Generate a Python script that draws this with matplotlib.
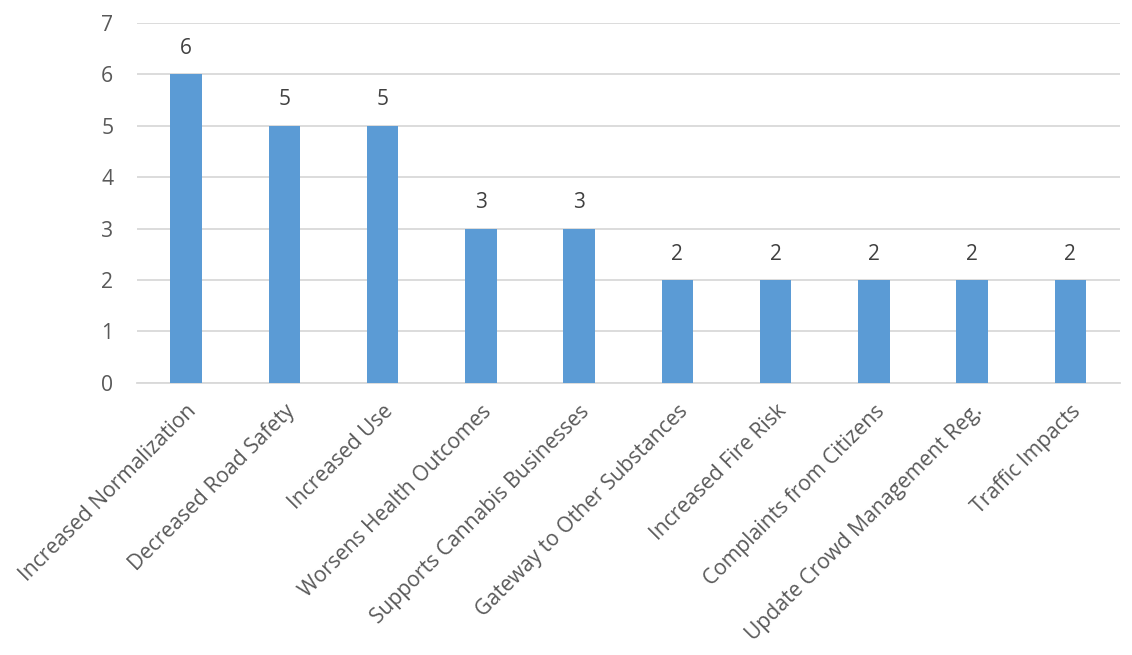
import matplotlib.pyplot as plt

categories = [
    "Increased Normalization",
    "Decreased Road Safety",
    "Increased Use",
    "Worsens Health Outcomes",
    "Supports Cannabis Businesses",
    "Gateway to Other Substances",
    "Increased Fire Risk",
    "Complaints from Citizens",
    "Update Crowd Management Reg.",
    "Traffic Impacts",
]
counts = [6, 5, 5, 3, 3, 2, 2, 2, 2, 2]
y_ticks = [0, 1, 2, 3, 4, 5, 6, 7]


def main():
    plt.rcParams["font.family"] = ["Open Sans", "DejaVu Sans"]
    fig = plt.figure(figsize=(11.32, 6.55), dpi=100)
    ax = fig.add_axes([0.121, 0.4155, 0.868, 0.5495])

    x = range(len(categories))
    bars = ax.bar(x, counts, width=0.32, color="#5B9BD5", zorder=3)
    for b, v in zip(bars, counts):
        ax.annotate(str(v), (b.get_x() + b.get_width() / 2, v),
                    xytext=(0, 11), textcoords="offset points",
                    ha="center", va="bottom", fontsize=15, color="#404040")

    ax.set_xlim(-0.5, len(categories) - 0.5)
    ax.set_ylim(0, 7)
    ax.set_yticks(y_ticks)
    ax.yaxis.grid(True, color="#D9D9D9", linewidth=1.3, zorder=0)
    ax.set_xticks(list(x))
    ax.set_xticklabels(categories, rotation=45, ha="right", va="top",
                       rotation_mode="anchor", fontsize=15.2, color="#595959")
    ax.tick_params(axis="y", labelsize=15.2, labelcolor="#595959", length=0, pad=17)
    ax.tick_params(axis="x", length=0, pad=13)
    for s in ["top", "right", "left"]:
        ax.spines[s].set_visible(False)
    ax.spines["bottom"].set_color("#D9D9D9")
    ax.spines["bottom"].set_linewidth(1.3)

    fig.savefig("out.png", dpi=100)


if __name__ == '__main__':
    main()
